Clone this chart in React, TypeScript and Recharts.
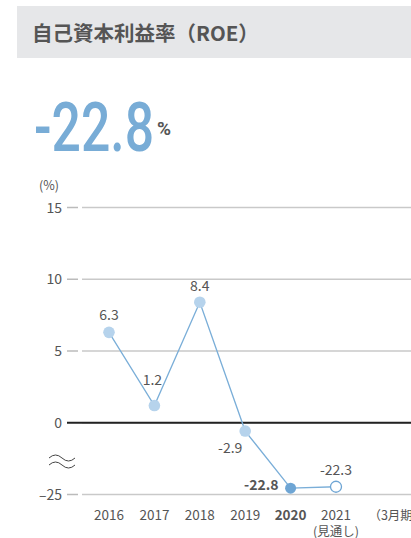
import {
  CartesianGrid,
  LabelList,
  Line,
  LineChart,
  ReferenceLine,
  XAxis,
  YAxis,
} from 'recharts';

const years = ['2016', '2017', '2018', '2019', '2020', '2021', '（3月期）'];
const roe: (number | null)[] = [6.3, 1.2, 8.4, -2.9, -22.8, -22.3, null];
const yTickValues = [-25, 0, 5, 10, 15];

// 縦軸は 0 と -25 の間を省略（負側は 1/5 に圧縮）
const toAxis = (v: number) => (v >= 0 ? v : v / 5);

const data = years.map((year, i) => ({
  year,
  roe: roe[i],
  plot: roe[i] == null ? null : toAxis(roe[i] as number),
}));

const FONT = '"Noto Sans CJK JP", "Noto Sans", sans-serif';
const TEXT = '#555';
const LINE = '#7aaed8';
const LIGHT = '#b6d3ec';
const DARK = '#6ea5d4';

// ラベル位置（点からのずれ）
const labelOffsets = [
  { dx: 0, dy: -17, anchor: 'middle' },
  { dx: -2, dy: -26, anchor: 'middle' },
  { dx: 0, dy: -16, anchor: 'middle' },
  { dx: -15, dy: 17, anchor: 'middle' },
  { dx: -12, dy: -3, anchor: 'end' },
  { dx: 0, dy: -17, anchor: 'middle' },
];

const YTick = ({ y, payload }: any) => {
  const v = payload.value;
  const label = v === toAxis(-25) ? '–25' : String(v);
  const isZero = v === 0;
  return (
    <g>
      <text x={62} y={y} dy="0.36em" textAnchor="end" fontSize={14} fill={TEXT} fontFamily={FONT}>
        {label}
      </text>
      {isZero ? (
        <line x1={67} x2={82} y1={y} y2={y} stroke="#222" strokeWidth={2} />
      ) : (
        <line x1={67} x2={78} y1={y} y2={y} stroke="#bbb" strokeWidth={1.5} />
      )}
    </g>
  );
};

const XTick = ({ x, y, payload, index }: any) => {
  const v = payload.value as string;
  if (index === years.length - 1) {
    return (
      <text x={x - 13} y={y + 25} textAnchor="start" fontSize={12.5} fill={TEXT} fontFamily={FONT}>
        {v}
      </text>
    );
  }
  return (
    <g>
      <text
        x={x}
        y={y + 25}
        textAnchor="middle"
        fontSize={13.5}
        fontWeight={v === '2020' ? 700 : 400}
        fill={TEXT}
        fontFamily={FONT}
      >
        {v}
      </text>
      {v === '2021' && (
        <text x={x} y={y + 41.5} textAnchor="middle" fontSize={12.5} fill={TEXT} fontFamily={FONT}>
          (見通し)
        </text>
      )}
    </g>
  );
};

const Dot = ({ cx, cy, index, payload }: any) => {
  if (payload.plot == null) return <g key={index} />;
  if (index === 5) {
    return <circle key={index} cx={cx} cy={cy} r={5.5} fill="#fff" stroke={DARK} strokeWidth={1.3} />;
  }
  return <circle key={index} cx={cx} cy={cy} r={index === 4 ? 5.5 : 5.8} fill={index === 4 ? DARK : LIGHT} />;
};

const ValueLabel = ({ x, y, value, index }: any) => {
  if (value == null) return null;
  const o = labelOffsets[index];
  return (
    <text
      x={x + o.dx}
      y={y + o.dy}
      dy="0.36em"
      textAnchor={o.anchor}
      fontSize={14}
      fontWeight={index === 4 ? 700 : 400}
      fill={TEXT}
      fontFamily={FONT}
    >
      {value}
    </text>
  );
};

export default function App() {
  return (
    <div
      style={{
        position: 'fixed',
        left: 0,
        top: 0,
        width: 411,
        height: 538,
        overflow: 'hidden',
        background: '#fff',
        fontFamily: FONT,
      }}
    >
      <div
        style={{
          position: 'absolute',
          left: 17,
          top: 6,
          width: 400,
          height: 52,
          background: '#e6e7e9',
        }}
      />
      <div
        style={{
          position: 'absolute',
          left: 32,
          top: 18,
          fontSize: 20.5,
          fontWeight: 700,
          color: TEXT,
          lineHeight: '28px',
          whiteSpace: 'nowrap',
        }}
      >
        自己資本利益率（ROE）
      </div>
      <div
        style={{
          position: 'absolute',
          left: 34,
          top: 88,
          whiteSpace: 'nowrap',
          fontFamily: 'Roboto, sans-serif',
          lineHeight: '80px',
        }}
      >
        <span
          style={{
            display: 'inline-block',
            fontSize: 68,
            fontWeight: 500,
            color: '#78acd6',
            transform: 'scaleX(0.76)',
            transformOrigin: 'left center',
          }}
        >
          -22.8
        </span>
        <span
          style={{
            position: 'absolute',
            left: 123,
            top: 1,
            fontSize: 19,
            fontWeight: 700,
            color: TEXT,
          }}
        >
          %
        </span>
      </div>
      <div
        style={{
          position: 'absolute',
          left: 39,
          top: 177,
          fontSize: 12.5,
          color: TEXT,
          lineHeight: '16px',
        }}
      >
        (%)
      </div>
      <div style={{ position: 'absolute', left: 0, top: 190 }}>
        <LineChart
          width={424}
          height={348}
          data={data}
          margin={{ top: 17.5, right: 0, left: 0, bottom: 3.5 }}
        >
          <CartesianGrid vertical={false} stroke="#c9c9c9" strokeWidth={1.5} />
          <XAxis
            dataKey="year"
            height={40}
            axisLine={false}
            tickLine={false}
            tickSize={0}
            tickMargin={0}
            interval={0}
            padding={{ left: 27, right: 42.6 }}
            tick={<XTick />}
          />
          <YAxis
            width={82}
            domain={[toAxis(-25), 15]}
            ticks={yTickValues.map(toAxis)}
            axisLine={false}
            tickLine={false}
            tick={<YTick />}
          />
          <ReferenceLine y={0} stroke="#222" strokeWidth={2} />
          <Line
            dataKey="plot"
            stroke={LINE}
            strokeWidth={1.3}
            dot={<Dot />}
            activeDot={false}
            isAnimationActive={false}
          >
            <LabelList dataKey="roe" content={<ValueLabel />} />
          </Line>
        </LineChart>
      </div>
      <svg
        width={40}
        height={20}
        style={{ position: 'absolute', left: 46, top: 452 }}
      >
        <path d="M3 6 Q9.5 0 16 6 T29 6" fill="none" stroke="#444" strokeWidth={1} />
        <path d="M3 13 Q9.5 7 16 13 T29 13" fill="none" stroke="#444" strokeWidth={1} />
      </svg>
    </div>
  );
}
